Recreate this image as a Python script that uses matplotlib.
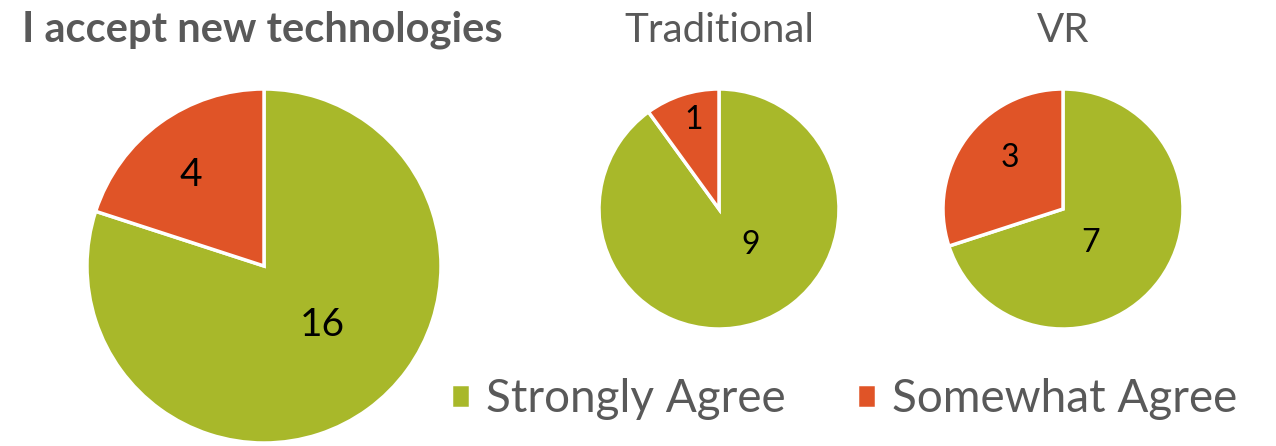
import numpy as np
import matplotlib.pyplot as plt

# Data
categories = ['Strongly Agree', 'Somewhat Agree']
overall = [16, 4]
traditional = [9, 1]
vr = [7, 3]
titles = ['I accept new technologies', 'Traditional', 'VR']

colors = ['#A8B82A', '#E05427']
gray = '#595959'

plt.rcParams['font.family'] = ['Lato', 'DejaVu Sans']

fig = plt.figure(figsize=(12.76, 4.46), dpi=100)
W, H = 1276, 446


def px_axes(cx, cy, r):
    return fig.add_axes([(cx - r) / W, (H - cy - r) / H, 2 * r / W, 2 * r / H])


# label placement (fraction of radius, angle clockwise from top) per wedge
label_pos = [
    [(0.47, 135), (0.66, 321)],
    [(0.40, 139), (0.77, 344)],
    [(0.36, 141), (0.61, 314)],
]
label_size = [28, 23, 23]

axes = [px_axes(264, 266, 177), px_axes(719, 209, 120), px_axes(1063, 209, 120)]
series = [overall, traditional, vr]

wedges_all = []
for ax, vals, pos, fs in zip(axes, series, label_pos, label_size):
    wedges, _ = ax.pie(vals, colors=colors, startangle=90, counterclock=False,
                       wedgeprops=dict(edgecolor='white', linewidth=2.5))
    wedges_all.append(wedges)
    for v, (d, a) in zip(vals, pos):
        t = np.deg2rad(a)
        ax.text(d * np.sin(t), d * np.cos(t), str(v), ha='center', va='center',
                fontsize=fs, color='black')
    ax.set_xlim(-1, 1)
    ax.set_ylim(-1, 1)

fig.text(22 / W, 1 - 30 / H, titles[0], ha='left', va='center',
         fontsize=30, fontweight='bold', color=gray)
fig.text(719 / W, 1 - 30 / H, titles[1], ha='center', va='center',
         fontsize=29, color=gray)
fig.text(1063 / W, 1 - 30 / H, titles[2], ha='center', va='center',
         fontsize=29, color=gray)

fig.legend(wedges_all[0], categories, loc='center',
           bbox_to_anchor=(844 / W, 1 - 399 / H), ncol=2, frameon=False,
           fontsize=33, labelcolor=gray, handlelength=0.42, handleheight=0.42,
           handletextpad=0.35, columnspacing=1.55, borderaxespad=0, borderpad=0)

fig.savefig('out.png', dpi=100)
